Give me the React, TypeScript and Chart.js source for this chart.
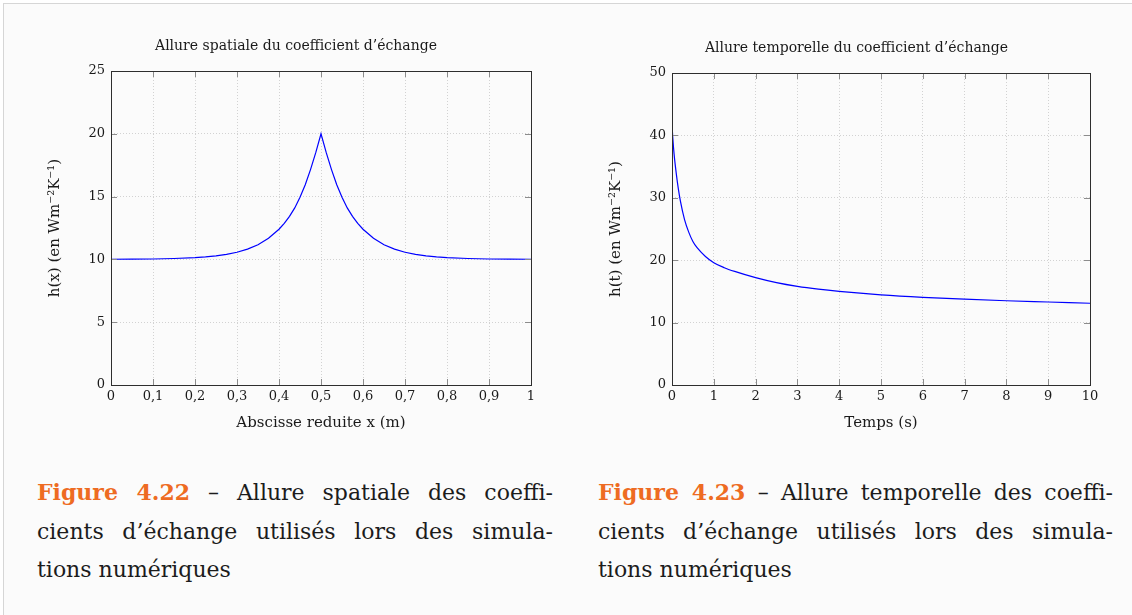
import React, { useEffect, useRef } from "react";
import { Chart, registerables } from "chart.js";

Chart.register(...registerables);

// ---------- Data ----------
const spatialX = [
  0, 0.05, 0.1, 0.15, 0.2, 0.225, 0.25, 0.275, 0.3, 0.325, 0.35, 0.375, 0.4,
  0.4125, 0.425, 0.4375, 0.45, 0.4625, 0.475, 0.4875, 0.5, 0.5125, 0.525,
  0.5375, 0.55, 0.5625, 0.575, 0.5875, 0.6, 0.625, 0.65, 0.675, 0.7, 0.725,
  0.75, 0.775, 0.8, 0.85, 0.9, 0.95, 1,
];
const spatialH = [
  10.01, 10.02, 10.03, 10.07, 10.14, 10.2, 10.28, 10.4, 10.57, 10.82, 11.17,
  11.68, 12.4, 12.87, 13.43, 14.1, 14.95, 15.95, 17.15, 18.5, 20, 18.5, 17.15,
  15.95, 14.95, 14.1, 13.43, 12.87, 12.4, 11.68, 11.17, 10.82, 10.57, 10.4,
  10.28, 10.2, 10.14, 10.07, 10.03, 10.02, 10.01,
];

const timeT = [
  0, 0.02, 0.05, 0.1, 0.15, 0.2, 0.3, 0.4, 0.5, 0.6, 0.8, 1, 1.25, 1.5, 2, 2.5,
  3, 3.5, 4, 5, 6, 7, 8, 9, 10,
];
const timeH = [
  41.7, 39.5, 37.0, 34.0, 31.5, 29.5, 26.5, 24.5, 23.0, 22.0, 20.6, 19.6, 18.8,
  18.2, 17.2, 16.4, 15.8, 15.35, 15.0, 14.45, 14.05, 13.75, 13.5, 13.3, 13.1,
];

const spatialXTicks = { min: 0, max: 1, step: 0.1 };
const spatialYTicks = { min: 0, max: 25, step: 5 };
const timeXTicks = { min: 0, max: 10, step: 1 };
const timeYTicks = { min: 0, max: 50, step: 10 };

const title1 = "Allure spatiale du coefficient d’échange";
const title2 = "Allure temporelle du coefficient d’échange";
const xTitle1 = "Abscisse reduite x (m)";
const xTitle2 = "Temps (s)";
const yTitle1 = "h(x) (en Wm⁻²K⁻¹)";
const yTitle2 = "h(t) (en Wm⁻²K⁻¹)";

// ---------- Styling ----------
const FONT = "'DejaVu Serif', serif";
const TXT = "#1a1a1a";

const framePlugin = {
  id: "frame",
  afterDraw(chart: any) {
    const { ctx, chartArea, scales } = chart;
    const { left, right, top, bottom } = chartArea;
    const L = 6;
    ctx.save();
    ctx.strokeStyle = "#8c8c8c";
    ctx.lineWidth = 1;
    ctx.beginPath();
    scales.x.ticks.forEach((t: any) => {
      const px = Math.round(scales.x.getPixelForValue(t.value)) + 0.5;
      ctx.moveTo(px, bottom);
      ctx.lineTo(px, bottom - L);
      ctx.moveTo(px, top);
      ctx.lineTo(px, top + L);
    });
    scales.y.ticks.forEach((t: any) => {
      const py = Math.round(scales.y.getPixelForValue(t.value)) + 0.5;
      ctx.moveTo(left, py);
      ctx.lineTo(left + L, py);
      ctx.moveTo(right, py);
      ctx.lineTo(right - L, py);
    });
    ctx.stroke();
    ctx.strokeStyle = "#2e2e2e";
    ctx.lineWidth = 1;
    ctx.strokeRect(
      Math.round(left) + 0.5,
      Math.round(top) + 0.5,
      Math.round(right - left),
      Math.round(bottom - top)
    );
    ctx.restore();
  },
};

function fmtComma(v: number) {
  if (Math.abs(v - Math.round(v)) < 1e-9) return String(Math.round(v));
  return v.toFixed(1).replace(".", ",");
}

type Cfg = {
  xs: number[];
  ys: number[];
  xt: { min: number; max: number; step: number };
  yt: { min: number; max: number; step: number };
  title: string;
  xTitle: string;
  yTitle: string;
  padLeft: number;
  padRight: number;
  yWidth: number;
  yTitlePad: number;
  titleTop: number;
  titleBottom: number;
  smooth: boolean;
};

function makeConfig(c: Cfg): any {
  const tickFont = { family: FONT, size: 13 };
  return {
    type: "line",
    data: {
      datasets: [
        {
          data: c.xs.map((x, i) => ({ x, y: c.ys[i] })),
          borderColor: "#0000ff",
          borderWidth: 1.2,
          pointRadius: 0,
          fill: false,
          tension: 0,
          cubicInterpolationMode: c.smooth ? "monotone" : "default",
        },
      ],
    },
    options: {
      responsive: false,
      animation: false,
      devicePixelRatio: 1,
      layout: {
        padding: { left: c.padLeft, right: c.padRight, top: 0, bottom: 0 },
      },
      plugins: {
        legend: { display: false },
        tooltip: { enabled: false },
        title: {
          display: true,
          text: c.title,
          color: TXT,
          font: { family: FONT, size: 14, weight: "normal", lineHeight: 1.2 },
          padding: { top: c.titleTop, bottom: c.titleBottom },
        },
      },
      scales: {
        x: {
          type: "linear",
          min: c.xt.min,
          max: c.xt.max,
          afterFit: (s: any) => {
            s.height = 55;
          },
          ticks: {
            stepSize: c.xt.step,
            autoSkip: false,
            maxRotation: 0,
            padding: 4,
            color: TXT,
            font: tickFont,
            callback: (v: any) => fmtComma(Number(v)),
          },
          grid: { color: "#d2d2d2", drawTicks: false, lineWidth: 1 },
          border: { display: false, dash: [1, 2] },
          title: {
            display: true,
            text: c.xTitle,
            color: TXT,
            font: { family: FONT, size: 15 },
            padding: { top: 0, bottom: 8 },
          },
        },
        y: {
          type: "linear",
          min: c.yt.min,
          max: c.yt.max,
          afterFit: (s: any) => {
            s.width = c.yWidth;
          },
          ticks: {
            stepSize: c.yt.step,
            padding: 6,
            color: TXT,
            font: tickFont,
            callback: (v: any) => fmtComma(Number(v)),
          },
          grid: { color: "#d2d2d2", drawTicks: false, lineWidth: 1 },
          border: { display: false, dash: [1, 2] },
          title: {
            display: true,
            text: c.yTitle,
            color: TXT,
            font: { family: FONT, size: 15 },
            padding: { top: c.yTitlePad, bottom: 0 },
          },
        },
      },
    },
    plugins: [framePlugin],
  };
}

function ChartCanvas({ cfg, left }: { cfg: Cfg; left: number }) {
  const ref = useRef<HTMLCanvasElement | null>(null);
  useEffect(() => {
    if (!ref.current) return;
    const chart = new Chart(ref.current, makeConfig(cfg));
    return () => chart.destroy();
  }, []);
  return (
    <canvas
      ref={ref}
      width={566}
      height={440}
      style={{ position: "absolute", left, top: 0, width: 566, height: 440 }}
    />
  );
}

const captionStyle: React.CSSProperties = {
  position: "absolute",
  top: 473,
  fontFamily: FONT,
  fontSize: 22,
  lineHeight: "38.5px",
  color: "#1c1c1c",
};
const lineJ: React.CSSProperties = {
  textAlign: "justify",
  textAlignLast: "justify" as any,
  whiteSpace: "nowrap",
};
const orange = { color: "#ee6b22", fontWeight: "bold" as const };

export default function App() {
  const cfg1: Cfg = {
    xs: spatialX,
    ys: spatialH,
    xt: spatialXTicks,
    yt: spatialYTicks,
    title: title1,
    xTitle: xTitle1,
    yTitle: yTitle1,
    padLeft: 61,
    padRight: 35,
    yWidth: 50,
    yTitlePad: -15,
    titleTop: 38.1,
    titleBottom: 16.1,
    smooth: false,
  };
  const cfg2: Cfg = {
    xs: timeT,
    ys: timeH,
    xt: timeXTicks,
    yt: timeYTicks,
    title: title2,
    xTitle: xTitle2,
    yTitle: yTitle2,
    padLeft: 57,
    padRight: 42,
    yWidth: 49,
    yTitlePad: -15.5,
    titleTop: 40.0,
    titleBottom: 16.2,
    smooth: true,
  };
  return (
    <div
      style={{
        position: "fixed",
        left: 0,
        top: 0,
        width: 1132,
        height: 615,
        background: "#ffffff",
        overflow: "hidden",
      }}
    >
      <div
        style={{
          position: "absolute",
          left: 3,
          top: 3,
          right: 0,
          bottom: 0,
          background: "#fbfbfb",
          borderLeft: "1.5px solid #d6d6d6",
          borderTop: "1.5px solid #d6d6d6",
        }}
      />
      <ChartCanvas cfg={cfg1} left={0} />
      <ChartCanvas cfg={cfg2} left={566} />
      <div style={{ ...captionStyle, left: 37, width: 516 }}>
        <div style={lineJ}>
          <span style={orange}>Figure 4.22</span> – Allure spatiale des coeffi-
        </div>
        <div style={lineJ}>cients d’échange utilisés lors des simula-</div>
        <div>tions numériques</div>
      </div>
      <div style={{ ...captionStyle, left: 598, width: 515 }}>
        <div style={lineJ}>
          <span style={orange}>Figure 4.23</span> – Allure temporelle des coeffi-
        </div>
        <div style={lineJ}>cients d’échange utilisés lors des simula-</div>
        <div>tions numériques</div>
      </div>
    </div>
  );
}
